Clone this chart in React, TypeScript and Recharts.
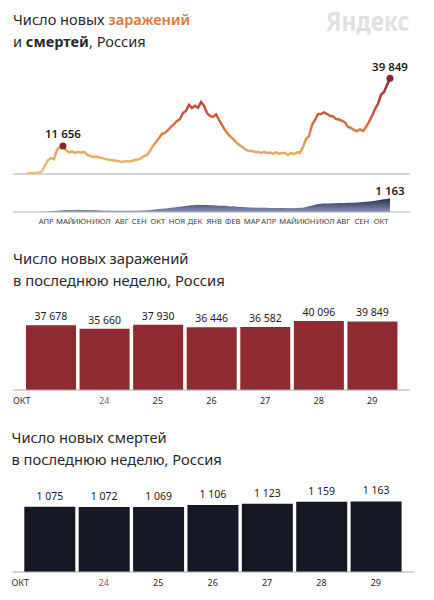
import React from "react";
import {
  LineChart, Line, AreaChart, Area, BarChart, Bar, XAxis, YAxis,
  ReferenceLine, ReferenceDot, LabelList,
} from "recharts";

const FONT = "'Noto Sans', sans-serif";

// Series sampled every 5 days from the start of March 2020
const STEP_DAYS = 5;
const casesDaily = [
  200, 300, 300, 400, 600, 1200, 3500, 5800, 6600, 6200, 10000, 11200, 11656, 10000, 9000, 9400,
  8800, 9200, 9000, 9200, 8100, 7500, 7100, 7300, 6900, 6700, 6300, 6000, 5800, 5600, 5400, 5200,
  5100, 5400, 5200, 5400, 5800, 6000, 6500, 7500, 7900, 9600, 11700, 13300, 15000, 16700, 17100, 18300,
  19600, 20800, 22100, 22900, 25400, 26300, 28800, 27500, 28400, 27500, 30000, 28400, 25400, 24200, 23800, 24800,
  22500, 20400, 18300, 16700, 15400, 14200, 12900, 11900, 11000, 10000, 9600, 9600, 9200, 9200, 8800, 9200,
  8800, 8900, 8500, 9000, 8500, 8800, 8800, 7900, 8800, 8300, 9000, 8800, 11300, 14600, 15800, 20400,
  22500, 25000, 25000, 25700, 25000, 24200, 24000, 22900, 22700, 22100, 21500, 19600, 19200, 18300, 17900, 18600,
  17900, 19600, 21700, 24200, 27100, 29200, 33000, 34200, 37100, 39849,
];
const deathsDaily = [
  1, 2, 3, 5, 8, 15, 30, 50, 70, 90, 110, 130, 150, 170, 180, 170,
  175, 190, 180, 165, 170, 175, 165, 155, 140, 125, 115, 120, 115, 110, 105, 105,
  100, 110, 105, 100, 105, 110, 120, 130, 150, 170, 200, 230, 250, 270, 290, 320,
  350, 380, 430, 450, 480, 510, 550, 580, 590, 610, 600, 590, 590, 570, 580, 560,
  540, 530, 520, 490, 470, 480, 450, 430, 420, 400, 390, 380, 370, 370, 360, 360,
  350, 340, 340, 330, 330, 340, 330, 320, 330, 320, 340, 350, 370, 420, 480, 550,
  620, 670, 700, 720, 730, 720, 740, 750, 760, 770, 770, 780, 790, 790, 800, 820,
  840, 870, 890, 920, 950, 990, 1030, 1070, 1110, 1163,
];
const monthLabels = ["АПР", "МАЙ", "ИЮН", "ИЮЛ", "АВГ", "СЕН", "ОКТ", "НОЯ", "ДЕК", "ЯНВ", "ФЕВ", "МАР", "АПР", "МАЙ", "ИЮН", "ИЮЛ", "АВГ", "СЕН", "ОКТ"];
const monthDays = [32, 63, 92, 124, 158, 187, 218, 250, 280, 312, 343, 375, 403, 435, 465, 497, 527, 558, 590];

const weekDays = ["ОКТ", "24", "25", "26", "27", "28", "29"];
const weekCases = [37678, 35660, 37930, 36446, 36582, 40096, 39849];
const weekDeaths = [1075, 1072, 1069, 1106, 1123, 1159, 1163];

const casesPeakDay = 60;
const casesPeak = 11656;
const lastDay = 605;
const lastCases = 39849;
const lastDeaths = 1163;

const dayDomain: [number, number] = [-23.3, 638.3];
const lineData = casesDaily.map((v, i) => ({ day: i * STEP_DAYS, cases: v }));
const areaData = deathsDaily.map((v, i) => ({ day: i * STEP_DAYS, deaths: v }));
const weekCaseData = weekDays.map((d, i) => ({ d, v: weekCases[i] }));
const weekDeathData = weekDays.map((d, i) => ({ d, v: weekDeaths[i] }));

const fmt = (v: any) => String(v).replace(/\B(?=(\d{3})+$)/g, "\u00a0");

const Title = ({ top, left, size, children }: any) => (
  <div style={{ position: "absolute", top, left, fontFamily: FONT, fontSize: size, lineHeight: "22px", color: "#2a2a2e", whiteSpace: "nowrap" }}>
    {children}
  </div>
);

const WeekTick = ({ x, y, payload, index, startX }: any) => (
  <text
    x={index === 0 ? startX : x}
    y={y}
    dy={6}
    textAnchor={index === 0 ? "start" : "middle"}
    fontFamily={FONT}
    fontSize={9}
    fill={index === 1 ? "#b5483f" : "#2a2a2e"}
  >
    {payload.value}
  </text>
);

const WeekChart = ({ top, data, fill, max, height, width, padding, startX, offset }: any) => (
  <div style={{ position: "absolute", top, left: 0 }}>
    <BarChart width={434} height={height} data={data} margin={{ top: 0, left: 13, right: 434 - 13 - width, bottom: 0 }} barSize={padding.bar}>
      <XAxis
        dataKey="d"
        interval={0}
        height={20}
        padding={{ left: padding.left, right: padding.right }}
        axisLine={{ stroke: "#a9a9b3", strokeWidth: 1 }}
        tickLine={false}
        tick={<WeekTick startX={startX} />}
      />
      <YAxis hide type="number" domain={[0, max]} />
      <Bar dataKey="v" fill={fill} isAnimationActive={false}>
        <LabelList dataKey="v" position="top" offset={offset} formatter={fmt} style={{ fontFamily: FONT, fontSize: 10.5, fill: "#1c1c20" }} />
      </Bar>
    </BarChart>
  </div>
);

export default function App() {
  return (
    <div style={{ position: "absolute", left: 0, top: 0, width: 434, height: 600, background: "#fff", overflow: "hidden" }}>
      <Title top={8} left={13} size={14.6}>
        Число новых <span style={{ color: "#d9773f", fontWeight: 600 }}>заражений</span>
        <br />и <span style={{ fontWeight: 700 }}>смертей</span>, Россия
      </Title>
      <div style={{ position: "absolute", top: 2, left: 326, fontFamily: FONT, fontWeight: 700, fontSize: 27, color: "#e0e0e0", transform: "scaleX(0.84)", transformOrigin: "left top", whiteSpace: "nowrap" }}>
        Яндекс
      </div>

      <div style={{ position: "absolute", top: 0, left: 0 }}>
        <LineChart width={434} height={180} data={lineData} margin={{ top: 60, left: 13, right: 24, bottom: 6 }}>
          <defs>
            <linearGradient id="heat" gradientUnits="userSpaceOnUse" x1="0" y1="78" x2="0" y2="174">
              <stop offset="0" stopColor="#8b2530" />
              <stop offset="0.28" stopColor="#c04a38" />
              <stop offset="0.5" stopColor="#d4703f" />
              <stop offset="0.72" stopColor="#e3a25d" />
              <stop offset="1" stopColor="#ecc07a" />
            </linearGradient>
          </defs>
          <XAxis hide type="number" dataKey="day" domain={dayDomain} />
          <YAxis hide type="number" domain={[0, 47500]} />
          <ReferenceLine y={0} stroke="#c4c4c8" strokeWidth={1.5} />
          <Line type="linear" dataKey="cases" stroke="url(#heat)" strokeWidth={2.5} dot={false} isAnimationActive={false} />
          <ReferenceDot
            x={casesPeakDay} y={casesPeak} r={3.5} fill="#8b2530" stroke="none"
            label={{ value: fmt(casesPeak), position: "top", offset: 5, style: { fontFamily: FONT, fontSize: 11.5, fontWeight: 600, fill: "#1c1c20" } }}
          />
          <ReferenceDot
            x={lastDay} y={lastCases} r={3.5} fill="#8b2530" stroke="none"
            label={{ value: fmt(lastCases), position: "top", offset: 4, style: { fontFamily: FONT, fontSize: 11.5, fontWeight: 600, fill: "#1c1c20" } }}
          />
        </LineChart>
      </div>

      <div style={{ position: "absolute", top: 180, left: 0 }}>
        <AreaChart width={434} height={50} data={areaData} margin={{ top: 10, left: 13, right: 24, bottom: 0 }}>
          <defs>
            <linearGradient id="navy" gradientUnits="userSpaceOnUse" x1="0" y1="18" x2="0" y2="32">
              <stop offset="0" stopColor="#232a52" />
              <stop offset="1" stopColor="#8790b4" />
            </linearGradient>
          </defs>
          <XAxis
            type="number" dataKey="day" domain={dayDomain} ticks={monthDays} interval={0} height={18}
            axisLine={false} tickLine={false} tickMargin={1}
            tickFormatter={(_: any, i: number) => monthLabels[i]}
            tick={{ fontFamily: FONT, fontSize: 7.6, fill: "#3a3a40" }}
          />
          <YAxis hide type="number" domain={[0, 1864]} />
          <Area type="linear" dataKey="deaths" stroke="none" fill="url(#navy)" fillOpacity={1} isAnimationActive={false} />
          <ReferenceLine y={0} stroke="#b4b4bc" strokeWidth={1} />
          <ReferenceDot
            x={lastDay} y={lastDeaths} r={0} stroke="none"
            label={{ value: fmt(lastDeaths), position: "top", offset: 3, style: { fontFamily: FONT, fontSize: 11.5, fontWeight: 600, fill: "#1c1c20" } }}
          />
        </AreaChart>
      </div>

      <Title top={247} left={13} size={14.8}>
        Число новых заражений
        <br />в последнюю неделю, Россия
      </Title>
      <WeekChart top={300} height={110} width={397} data={weekCaseData} fill="#8f2a31" max={52300} startX={13} offset={5}
        padding={{ left: 11, right: 11, bar: 50 }} />

      <Title top={426} left={11.5} size={14.7}>
        Число новых смертей
        <br />в последнюю неделю, Россия
      </Title>
      <WeekChart top={482} height={110} width={401.5} data={weekDeathData} fill="#161826" max={1483} startX={11.5} offset={7}
        padding={{ left: 9.3, right: 11.5, bar: 51 }} />
    </div>
  );
}
